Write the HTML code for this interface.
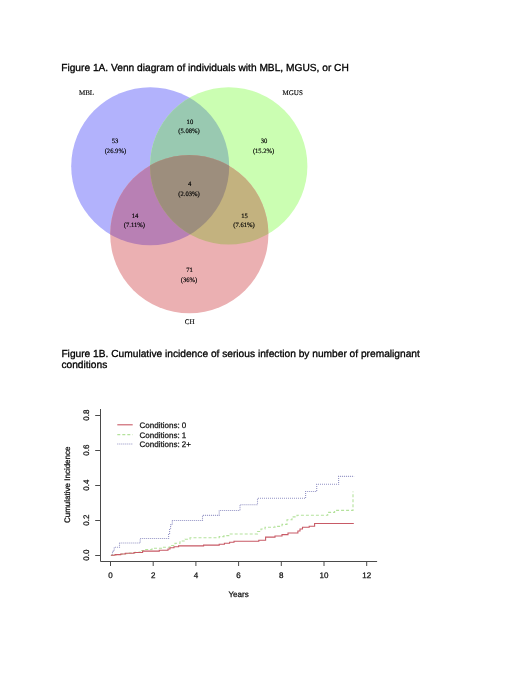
<!DOCTYPE html>
<html>
<head>
<meta charset="utf-8">
<style>
html,body{margin:0;padding:0;background:#fff;}
body{width:520px;height:673px;overflow:hidden;position:relative;}
svg{position:absolute;left:0;top:0;display:block;will-change:transform;text-rendering:geometricPrecision;}
.t{font-family:"Liberation Sans",sans-serif;font-size:10.2px;fill:#000;stroke:#000;stroke-width:0.3px;}
.v{font-family:"Liberation Serif",serif;font-size:6.6px;fill:#000;stroke:#000;stroke-width:0.15px;text-anchor:middle;}
.vl{font-size:7px;}
.a{font-family:"Liberation Sans",sans-serif;font-size:8px;fill:#111;stroke:#111;stroke-width:0.25px;}
</style>
</head>
<body>
<svg width="520" height="673" viewBox="0 0 520 673">
<defs>
<clipPath id="cB"><circle cx="150.2" cy="166.2" r="79"/></clipPath>
<clipPath id="cG"><circle cx="228.7" cy="165.9" r="78.7"/></clipPath>
<clipPath id="cR"><circle cx="189.3" cy="234.2" r="79.1"/></clipPath>
</defs>
<text class="t" x="61.2" y="70.8">Figure 1A. Venn diagram of individuals with MBL, MGUS, or CH</text>

<!-- Venn -->
<circle cx="150.2" cy="166.2" r="79" fill="#B2B2FC"/>
<circle cx="228.7" cy="165.9" r="78.7" fill="#CBFEB2"/>
<circle cx="189.3" cy="234.2" r="79.1" fill="#EBB0B2"/>
<circle cx="228.7" cy="165.9" r="78.7" fill="#99C9B1" clip-path="url(#cB)"/>
<circle cx="189.3" cy="234.2" r="79.1" fill="#B880B4" clip-path="url(#cB)"/>
<circle cx="189.3" cy="234.2" r="79.1" fill="#C3B27F" clip-path="url(#cG)"/>
<g clip-path="url(#cB)"><circle cx="189.3" cy="234.2" r="79.1" fill="#9D8E7D" clip-path="url(#cG)"/></g>

<text class="v vl" x="86.5" y="95.4">MBL</text>
<text class="v vl" x="292.7" y="95.4">MGUS</text>
<text class="v vl" x="189.6" y="324.3">CH</text>
<text class="v" x="115" y="143.2">53</text>
<text class="v" x="115.4" y="152.6">(26.9%)</text>
<text class="v" x="189.9" y="123.5">10</text>
<text class="v" x="189" y="132.6">(5.08%)</text>
<text class="v" x="264" y="143.2">30</text>
<text class="v" x="263.6" y="152.6">(15.2%)</text>
<text class="v" x="189.6" y="186">4</text>
<text class="v" x="189" y="196.3">(2.03%)</text>
<text class="v" x="135" y="218.2">14</text>
<text class="v" x="134.4" y="227.4">(7.11%)</text>
<text class="v" x="244.6" y="218.2">15</text>
<text class="v" x="244" y="227.4">(7.61%)</text>
<text class="v" x="189.6" y="272.4">71</text>
<text class="v" x="189" y="281.8">(36%)</text>

<text class="t" x="61.4" y="357">Figure 1B. Cumulative incidence of serious infection by number of premalignant</text>
<text class="t" x="61.4" y="368.1">conditions</text>

<!-- chart axes -->
<g stroke="#4a4a4a" stroke-width="1" fill="none">
<path d="M100.5 409 V561.5 H377.1"/>
<path d="M95.2 415.5 H100.5 M95.2 450.5 H100.5 M95.2 485.5 H100.5 M95.2 520.5 H100.5 M95.2 555.5 H100.5"/>
<path d="M110.5 561.5 V566 M153.2 561.5 V566 M195.9 561.5 V566 M238.6 561.5 V566 M281.3 561.5 V566 M324 561.5 V566 M366.7 561.5 V566"/>
</g>
<g class="a" text-anchor="middle">
<text x="110.5" y="577.7">0</text>
<text x="153.2" y="577.7">2</text>
<text x="195.9" y="577.7">4</text>
<text x="238.6" y="577.7">6</text>
<text x="281.3" y="577.7">8</text>
<text x="324" y="577.7">10</text>
<text x="366.7" y="577.7">12</text>
<text x="238.6" y="597.3">Years</text>
</g>
<g class="a" text-anchor="middle">
<text transform="translate(89.4 415.1) rotate(-90)">0.8</text>
<text transform="translate(89.4 450.1) rotate(-90)">0.6</text>
<text transform="translate(89.4 485.1) rotate(-90)">0.4</text>
<text transform="translate(89.4 520.1) rotate(-90)">0.2</text>
<text transform="translate(89.4 555.1) rotate(-90)">0.0</text>
<text transform="translate(69.7 484.8) rotate(-90)">Cumulative Incidence</text>
</g>

<!-- legend -->
<path d="M117.3 424.8 H132.7" stroke="#C85A66" stroke-width="1.1"/>
<path d="M117.3 434.6 H132.7" stroke="#B4E29C" stroke-width="1.1" stroke-dasharray="3 2"/>
<path d="M117.3 444 H132.7" stroke="#9292C4" stroke-width="1.1" stroke-dasharray="1 1"/>
<g class="a">
<text x="139.6" y="427.9">Conditions: 0</text>
<text x="139.6" y="437.5">Conditions: 1</text>
<text x="139.6" y="447.1">Conditions: 2+</text>
</g>

<!-- curves -->
<path fill="none" stroke="#9292C4" stroke-width="1.1" stroke-dasharray="1 1"
 d="M110.9 555.2 H112.5 V551.1 H114.2 V547.2 H119.5 V543 H140.2 V538.5 H168.6 V533.4 H169.6 V528.3 H170.6 V524.8 H172.3 V520.5 H202.5 V515.4 H219.2 V510.5 H240 V504.7 H257.5 V498.3 H305.6 V491.5 H316.7 V484.3 H338.6 V476.4 H354.2"/>
<path fill="none" stroke="#B4E29C" stroke-width="1.1" stroke-dasharray="3 2"
 d="M110.9 555.2 H116 V554.5 H122 V553.8 H128 V553 H135 V552.2 H140 V550.5 H145 V549.5 H152 V548.3 H162 V547.2 H170 V545.5 H175 V543.3 H180 V541 H185 V539.2 H190 V537.8 H219.2 V536.6 H224 V535.6 H229.6 V534 H257.5 V531.5 H261 V529 H265 V527.3 H275 V526.4 H282 V524.4 H287 V519.8 H292 V516.9 H297 V515.2 H327.7 V512.4 H334.6 V510.4 H353 V491.5"/>
<path fill="none" stroke="#C85A66" stroke-width="1.1"
 d="M110.9 555.2 H115 V554.6 H120.7 V554 H125.3 V553.2 H134 V552.5 H142.6 V551.1 H159.3 V550.2 H168 V549 H170 V547.8 H174 V546.7 H178.6 V545.9 H203.6 V545.1 H219.2 V544.3 H224.4 V543.3 H229.6 V542.3 H234 V541.3 H258.8 V540.2 H265.6 V537.1 H275 V536 H282 V534.6 H288 V533 H297.9 V531 H300 V529 H302.5 V527.3 H309.2 V526.2 H314.6 V523.5 H353.8"/>
</svg>
</body>
</html>
